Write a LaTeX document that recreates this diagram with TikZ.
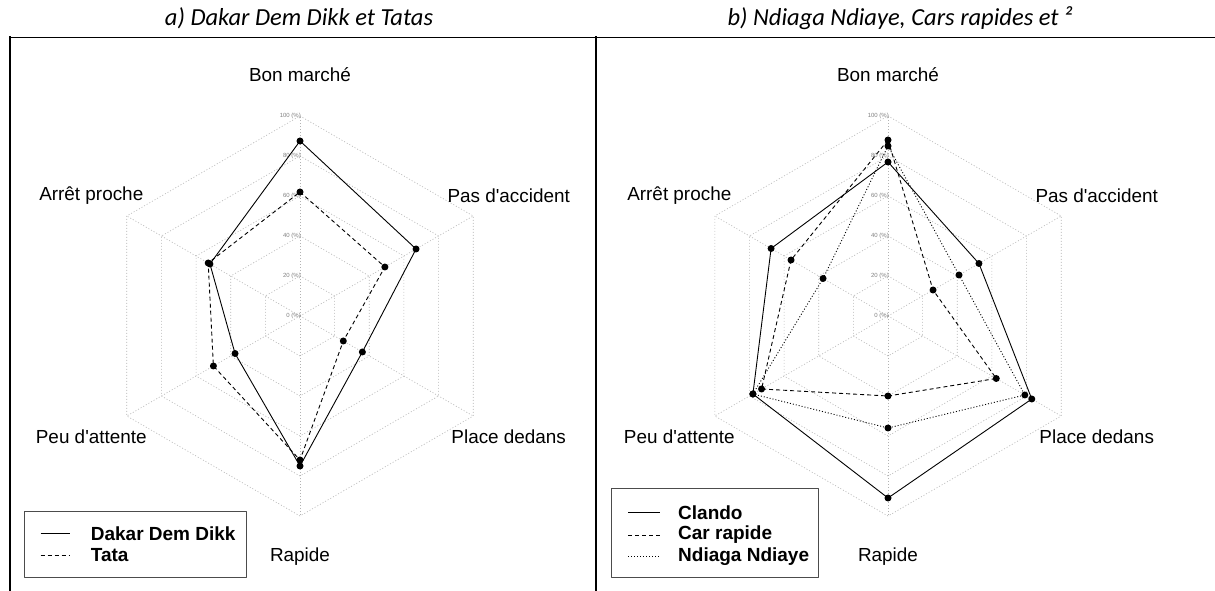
\documentclass[tikz,border=0pt]{standalone}
\usepackage{fontspec}
\setmainfont{Liberation Sans}
\newfontfamily\titlefont{Carlito}
\usetikzlibrary{positioning}

\begin{document}
\begin{tikzpicture}[x=1pt, y=1pt, line join=round, node distance=4pt]
\tikzset{
  grid/.style={black!30, line width=0.6pt, dash pattern=on 1pt off 2pt},
  serie/.style={line width=0.9pt},
  tata/.style={serie, dash pattern=on 4pt off 3pt},
  ndiaga/.style={serie, dash pattern=on 1pt off 2pt},
  pt/.style={circle, fill=black, inner sep=0pt, minimum size=7pt},
  axe/.style={font=\fontsize{18.9}{22}\selectfont},
  tick/.style={anchor=east, inner sep=0pt, text=black!50, font=\fontsize{6}{7}\selectfont},
  titre/.style={font=\titlefont\itshape\fontsize{24.5}{28}\selectfont},
  leg/.style={anchor=west, inner sep=0pt, font=\bfseries\fontsize{19}{22}\selectfont},
  cadre/.style={draw=black!70, line width=1pt}
}
\useasboundingbox (0,0) rectangle (1215,591);

% titles and frame
\node[titre] (ta) at (299,573) {a) Dakar Dem Dikk et Tatas};
\node[titre] (tb) at (900,573) {b) Ndiaga Ndiaye, Cars rapides et ²};
\draw[line width=1pt] (9,553.5) -- (1215,553.5);
\draw[line width=1.8pt] (582,553.5) -- (610,553.5) (1167,553.5) -- (1215,553.5);
\draw[line width=2.5pt] (10,554.5) -- (10,0);
\draw[line width=2pt] (596,554.5) -- (596,0);

% a) Dakar Dem Dikk et Tata
\begin{scope}[shift={(300,275)}]
\foreach \r in {40,80,...,200}
  \draw[grid] (90:\r) -- (30:\r) -- (-30:\r) -- (-90:\r) -- (210:\r) -- (150:\r) -- cycle;
\foreach \a in {90,30,...,-210}
  \draw[grid] (0,0) -- (\a:200);
\foreach \v in {0,20,...,100}
  \node[tick] (at\v) at (1,2*\v) {\v{} (\%)};
\node[axe] (aBon)   at (90:241)  {Bon marché};
\node[axe] (aPas)   at (30:241)  {Pas d\textquotesingle accident};
\node[axe] (aPlace) at (-30:241) {Place dedans};
\node[axe] (aRap)   at (-90:241) {Rapide};
\node[axe] (aPeu)   at (210:241) {Peu d\textquotesingle attente};
\node[axe] (aArr)   at (150:241) {Arrêt proche};
% Dakar Dem Dikk
\foreach \v [count=\i] in {87.5,67,36,75,37.5,52}
  \node[pt] (ad\i) at ({150-60*\i}:{2*\v}) {};
\draw[serie] (ad1.center) -- (ad2.center) -- (ad3.center) -- (ad4.center) -- (ad5.center) -- (ad6.center) -- cycle;
% Tata
\foreach \v [count=\i] in {62,49,25,72,50,53}
  \node[pt] (at\i) at ({150-60*\i}:{2*\v}) {};
\draw[tata] (at1.center) -- (at2.center) -- (at3.center) -- (at4.center) -- (at5.center) -- (at6.center) -- cycle;
\end{scope}
\draw[cadre] (24,13) rectangle (246,79);
\node[leg] (la1) at (90.7,57.7) {Dakar Dem Dikk};
\node[leg] (la2) at (90.7,36) {Tata};
\draw[serie] ([xshift=-50pt]la1.west) -- ([xshift=-20.7pt]la1.west);
\draw[tata] ([xshift=-50pt]la2.west) -- ([xshift=-20.7pt]la2.west);

% b) Clando, Car rapide et Ndiaga Ndiaye
\begin{scope}[shift={(888,275)}]
\foreach \r in {40,80,...,200}
  \draw[grid] (90:\r) -- (30:\r) -- (-30:\r) -- (-90:\r) -- (210:\r) -- (150:\r) -- cycle;
\foreach \a in {90,30,...,-210}
  \draw[grid] (0,0) -- (\a:200);
\foreach \v in {0,20,...,100}
  \node[tick] (bt\v) at (1,2*\v) {\v{} (\%)};
\node[axe] (bBon)   at (90:241)  {Bon marché};
\node[axe] (bPas)   at (30:241)  {Pas d\textquotesingle accident};
\node[axe] (bPlace) at (-30:241) {Place dedans};
\node[axe] (bRap)   at (-90:241) {Rapide};
\node[axe] (bPeu)   at (210:241) {Peu d\textquotesingle attente};
\node[axe] (bArr)   at (150:241) {Arrêt proche};
% Clando
\foreach \v [count=\i] in {77,52.5,83,91,78,67.5}
  \node[pt] (bc\i) at ({150-60*\i}:{2*\v}) {};
\draw[serie] (bc1.center) -- (bc2.center) -- (bc3.center) -- (bc4.center) -- (bc5.center) -- (bc6.center) -- cycle;
% Car rapide
\foreach \v [count=\i] in {88,26,62.5,40,73,56}
  \node[pt] (br\i) at ({150-60*\i}:{2*\v}) {};
\draw[tata] (br1.center) -- (br2.center) -- (br3.center) -- (br4.center) -- (br5.center) -- (br6.center) -- cycle;
% Ndiaga Ndiaye
\foreach \v [count=\i] in {85,41,79,56,78,37.5}
  \node[pt] (bn\i) at ({150-60*\i}:{2*\v}) {};
\draw[ndiaga] (bn1.center) -- (bn2.center) -- (bn3.center) -- (bn4.center) -- (bn5.center) -- (bn6.center) -- cycle;
\end{scope}
\draw[cadre] (611.7,13) rectangle (818.3,102);
\node[leg] (lb1) at (678,78.3) {Clando};
\node[leg] (lb2) at (678,56) {Car rapide};
\node[leg] (lb3) at (678,34.3) {Ndiaga Ndiaye};
\draw[serie] ([xshift=-50pt]lb1.west) -- ([xshift=-18pt]lb1.west);
\draw[tata] ([xshift=-50pt]lb2.west) -- ([xshift=-18pt]lb2.west);
\draw[ndiaga] ([xshift=-50pt]lb3.west) -- ([xshift=-18pt]lb3.west);
\end{tikzpicture}
\end{document}
